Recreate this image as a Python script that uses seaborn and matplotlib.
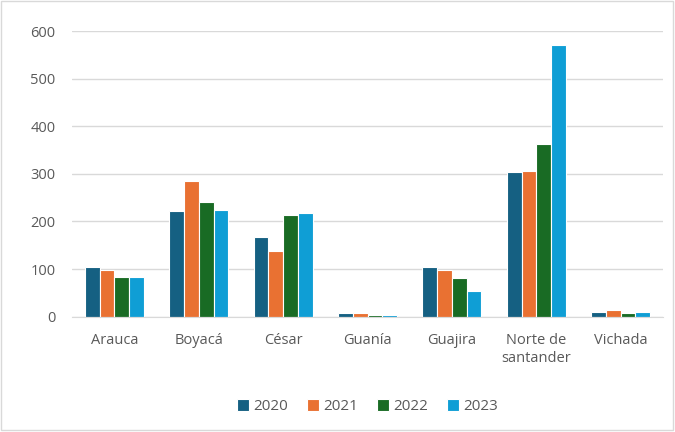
import matplotlib
from matplotlib import pyplot as plt
import seaborn as sns
import numpy as np
import pandas as pd

departamentos = ["Arauca", "Boyacá", "César", "Guanía", "Guajira", "Norte de\nsantander", "Vichada"]
years = ["2020", "2021", "2022", "2023"]
v2020 = [104, 221, 167, 7, 104, 303, 10]
v2021 = [98, 285, 138, 7, 98, 307, 13]
v2022 = [84, 241, 214, 4, 81, 363, 7]
v2023 = [84, 224, 218, 4, 54, 570, 10]
colors = ["#156082", "#E97132", "#196B24", "#0F9ED5"]

rows = []
for yr, vals in zip(years, [v2020, v2021, v2022, v2023]):
    for d, v in zip(departamentos, vals):
        rows.append({"dep": d, "year": yr, "value": v})
df = pd.DataFrame(rows)

sns.set_style("white")
plt.rcParams['font.family'] = ['Open Sans', 'DejaVu Sans']
txt = "#595959"

fig = plt.figure(figsize=(6.75, 4.32), dpi=100)
ax = fig.add_axes([0.107, 0.267, 0.875, 0.661])
fig.patches.append(matplotlib.patches.Rectangle((0.001, 0.004), 0.996, 0.994, transform=fig.transFigure,
                                                fill=False, edgecolor="#d9d9d9", linewidth=1))

sns.barplot(data=df, x="dep", y="value", hue="year", palette=colors, saturation=1, width=0.7,
            edgecolor="white", linewidth=0.8, ax=ax, legend=True)

ax.set_ylim(0, 600)
ax.set_yticks(np.arange(0, 601, 100))
ax.yaxis.grid(True, color="#d9d9d9", linewidth=1)
ax.set_axisbelow(True)
for s in ["top", "right", "left"]:
    ax.spines[s].set_visible(False)
ax.spines["bottom"].set_color("#d9d9d9")
ax.tick_params(axis="both", length=0, labelsize=10.5, colors=txt)
ax.tick_params(axis="x", pad=12)
ax.tick_params(axis="y", pad=12)
ax.set_xlabel("")
ax.set_ylabel("")
ax.set_xlim(-0.5, len(departamentos) - 0.5)

ax.legend(loc="center", bbox_to_anchor=(0.5, -0.315), ncol=4, frameon=False,
          fontsize=11, labelcolor=txt, handlelength=0.8, handleheight=0.8,
          handletextpad=0.3, columnspacing=1.2)

fig.savefig("out.png", dpi=100)
